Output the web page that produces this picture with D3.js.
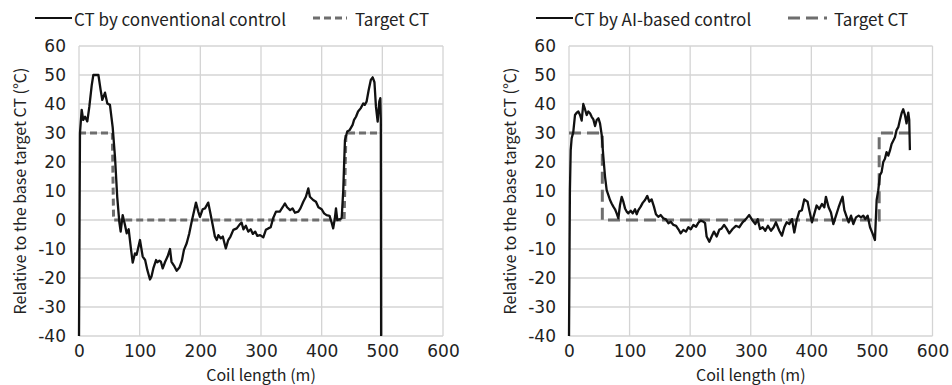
<!DOCTYPE html>
<html><head><meta charset="utf-8">
<script src="https://cdn.jsdelivr.net/npm/d3@7/dist/d3.min.js"></script>
<style>
html,body{margin:0;padding:0;background:#fff;}
svg{display:block;}
</style></head>
<body>
<svg id="chart" width="952" height="385"></svg>
<script>
// ---------- DATA ----------
const xTicks = [0, 100, 200, 300, 400, 500, 600];
const yTicks = [-40, -30, -20, -10, 0, 10, 20, 30, 40, 50, 60];

const convLabel = "CT by conventional control";
const aiLabel = "CT by AI-based control";
const targetLabel = "Target CT";
const xTitle = "Coil length (m)";
const yTitle = "Relative to the base target CT (℃)";

const convX = [0,1.6,4.4,7,10,13.7,17,21,23.6,32,35.7,38.4,42.9,46.7,51,55.5,59.3,63,66.4,68.7,72,75.8,78.6,81.9,85.2,88.5,92.3,95,100.5,105,109,112.6,117,119.5,122.5,127,129,132.5,135,138,142,146,150,152.5,156.5,161,165.5,169.6,173,177.5,181.8,185.7,189.5,192.8,196.6,199.4,203.8,207.7,213,216,220.4,224,227,229.7,233.6,237,242,246,249.7,254.4,260,265.3,268,271,275,279,283,286.6,290.4,294,298.6,303.8,308,312,316,320,324.7,331,335.7,339.5,343,348,352,356,361.5,365,369.7,374,378,380.6,386,390.6,394.6,400,404,408,413,416.5,419,421.7,423.6,425.8,429,433,435.6,436.8,438.4,442.2,446,451,453.4,456.6,460,464.2,468.5,471,474,477.5,481,484.1,487,489.5,492.3,495,496.7,497.5,498];
const convY = [-40,30,38,34.5,35.6,34,39,46.5,50,50,44.8,41.4,43.9,40.2,39.7,32,21.8,8,-0.6,-4,1.7,-1.7,-4.6,-3.2,-9.2,-14.7,-11.5,-12,-6.9,-12.6,-13.8,-17.2,-20.5,-19.5,-16.7,-13.8,-14.6,-14,-14.4,-16.7,-14.4,-12.6,-10,-14.4,-15.7,-17.5,-16.4,-14,-10.3,-8,-4.6,-0.6,2.9,6,2.9,1.1,3.7,4,6,2.9,-1.7,-5.7,-6.9,-5.2,-6.3,-5.7,-9.8,-6.9,-5.7,-3.4,-2.9,-1.4,-0.9,-3.2,-2,-4,-3.2,-4.8,-4,-5.5,-5.2,-6,-3.4,-2.9,-2.5,0.6,2.9,2.9,4.4,5.7,4.4,3.4,4,2.5,2.9,4,6.3,8,10.9,8,6.9,6.3,4.4,3.7,2.3,1.7,1.4,-0.9,-2.9,0.6,4,0,0.2,0.6,10.3,18,27.6,30.5,31,32.8,34.5,35.6,37.4,38.5,40.2,39.7,40.8,44.8,48.3,49.2,47.5,39,33.9,40.8,42,34.5,-40];

const aiX = [0,1.5,2.8,4.4,7,9.9,12.7,15.4,18.2,20.9,23.6,26.4,29.2,31.9,34.7,37.4,40.2,43,45.7,48.5,51.2,54,56.7,59.5,62.2,65,67.7,70.4,73.2,76,78.7,81.5,84.2,87,89.7,92.5,95.2,98,101.8,105.1,109,111.7,114.5,118.3,121.6,125.5,129.2,132.5,136.4,140.2,143.5,147.4,151.2,155.6,160,164,168,172.4,176.8,180.6,184.4,188.8,193,197,201,205.4,209.8,213.6,217.5,222,224.6,227.2,231.6,235.4,239.3,243.7,248,252,256,260,264.6,270,275.5,281,286.5,292,297.5,303,307.5,311.4,315.3,319.6,324,328.4,333.4,337.8,341.6,347.1,351.5,355.4,359.3,363.7,368,371.9,375.8,380,384.4,388.3,393.8,396.6,401,404.9,408.7,413.1,417.5,421.4,424.1,428.5,432.4,436.3,440.7,445.1,449,451.6,454.5,458.3,461.6,465.5,469.3,473.7,478.1,482,485.8,489.1,493,496.9,501.3,505,507.8,510.5,513.2,516,518.7,521.5,524.2,527,529.7,532.5,535.2,538,540.7,543.5,546.2,549,551.7,554.5,557.2,560,561.6,562.7];
const aiY = [-40,10,24.1,28.2,30.2,36.2,37,37.4,36.2,34.3,40,38.2,36.2,37.4,36.8,35.6,34.7,32.4,34.5,35.1,33.3,29.3,21.8,14.9,10.3,8.6,6.9,5.7,4.6,3.7,2.3,0.6,5.2,8,6.3,4,2.9,2.3,3.2,2.3,3.7,2,3.4,4.6,5.9,6.9,8.3,6.3,7.1,4.6,2,1.1,1.7,0.6,0.2,-1.1,-0.6,-1.7,-2,-3.2,-4.6,-3.4,-4,-2.5,-3.2,-1.7,-2.3,-0.9,-0.2,-0.6,-1.1,-5.7,-7.5,-5.7,-4,-5.7,-3.4,-2.9,-1.7,-2.9,-4.6,-3.1,-2,-2.5,-0.8,0.3,1.7,-0.2,-1.4,0.3,-3.1,-2.5,-3.7,-2,-3.7,-2.5,-0.8,-3.7,-5.4,-2.5,-0.8,-1.4,0.3,-4.3,-0.1,2.9,3.4,7.1,6.3,3.4,-0.8,2.1,5,3.8,5.5,4.4,8,4.4,2.6,-1.4,1.5,4.4,6.7,8,3.4,1.1,-0.8,1.5,-1.4,0.9,1.5,0.9,1.5,0.3,1.5,-2.5,-4.8,-6.9,6.9,10.3,15.5,16.5,20,21.1,23.4,22.2,23.9,26.2,27.3,28.5,31,32,34.5,36.8,38.2,36.2,33.3,37,34.5,24.1];

const targetConvX = [0, 55, 57, 437, 440, 499];
const targetConvY = [30, 30, 0, 0, 30, 30];
const targetAiX = [0, 55, 55, 512, 512, 563];
const targetAiY = [30, 30, 0, 0, 30, 30];

// ---------- DRAW ----------
const svg = d3.select("#chart");
const textFont = "'Noto Sans CJK JP', 'Noto Sans', sans-serif";
const tickFont = "'DejaVu Sans', sans-serif";
const ink = "#222";

const panels = [
  {left: 79, right: 443, lx: convX, ly: convY, tx: targetConvX, ty: targetConvY,
   dash: "7,4", legLine: [35, 72], legText: 74, legDash: [313, 347], legText2: 355,
   label: convLabel, yTitleX: 19},
  {left: 569, right: 932.5, lx: aiX, ly: aiY, tx: targetAiX, ty: targetAiY,
   dash: "12,6", legLine: [536, 573], legText: 574, legDash: [788, 827], legText2: 834,
   label: aiLabel, yTitleX: 509}
];
const plotTop = 46, plotBottom = 336;

panels.forEach((p, i) => {
  const x = d3.scaleLinear().domain([0, 600]).range([p.left, p.right]);
  const y = d3.scaleLinear().domain([-40, 60]).range([plotBottom, plotTop]);
  const g = svg.append("g");

  // grid
  g.append("g").selectAll("line").data(yTicks).join("line")
    .attr("x1", p.left).attr("x2", p.right)
    .attr("y1", d => y(d)).attr("y2", d => y(d))
    .attr("stroke", "#d4d4d4").attr("stroke-width", 1.3);
  g.append("g").selectAll("line").data(xTicks).join("line")
    .attr("y1", plotTop).attr("y2", plotBottom)
    .attr("x1", d => x(d)).attr("x2", d => x(d))
    .attr("stroke", "#d4d4d4").attr("stroke-width", 1.3);

  // axes (labels only)
  const yAxis = g.append("g").attr("transform", `translate(${p.left},0)`)
    .call(d3.axisLeft(y).tickValues(yTicks).tickSize(0).tickPadding(13).tickFormat(d3.format("d")));
  const xAxis = g.append("g").attr("transform", `translate(0,${plotBottom})`)
    .call(d3.axisBottom(x).tickValues(xTicks).tickSize(0).tickPadding(9).tickFormat(d3.format("d")));
  [yAxis, xAxis].forEach(a => {
    a.select(".domain").remove();
    a.selectAll("text").attr("font-family", tickFont).attr("font-size", 17).attr("fill", ink);
  });
  yAxis.selectAll("text").text(d => d < 0 ? "-" + Math.abs(d) : d);

  // clip
  const cid = "clip" + i;
  svg.append("clipPath").attr("id", cid).append("rect")
    .attr("x", p.left - 2).attr("y", plotTop).attr("width", p.right - p.left + 4).attr("height", plotBottom - plotTop);

  const line = d3.line().x(d => x(d[0])).y(d => y(d[1]));
  const tData = p.tx.map((v, k) => [v, p.ty[k]]);
  const lData = p.lx.map((v, k) => [v, p.ly[k]]);

  g.append("path").datum(tData).attr("d", line).attr("clip-path", `url(#${cid})`)
    .attr("fill", "none").attr("stroke", "#6e6e6e").attr("stroke-width", 3)
    .attr("stroke-dasharray", p.dash);
  g.append("path").datum(lData).attr("d", line).attr("clip-path", `url(#${cid})`)
    .attr("fill", "none").attr("stroke", "#111").attr("stroke-width", 2.3)
    .attr("stroke-linejoin", "round");

  // titles
  g.append("text").attr("x", (p.left + p.right) / 2).attr("y", 381)
    .attr("text-anchor", "middle").attr("font-family", textFont).attr("font-size", 16)
    .attr("fill", ink).text(xTitle);
  g.append("text").attr("transform", `translate(${p.yTitleX},${(plotTop + plotBottom) / 2}) rotate(-90)`)
    .attr("text-anchor", "middle").attr("dominant-baseline", "central")
    .attr("font-family", textFont).attr("font-size", 16).attr("fill", ink).text(yTitle);

  // legend
  const ly = 18;
  g.append("line").attr("x1", p.legLine[0]).attr("x2", p.legLine[1]).attr("y1", ly).attr("y2", ly)
    .attr("stroke", "#111").attr("stroke-width", 2);
  g.append("text").attr("x", p.legText).attr("y", ly).attr("dominant-baseline", "central")
    .attr("font-family", textFont).attr("font-size", 17).attr("fill", ink).text(p.label);
  g.append("line").attr("x1", p.legDash[0]).attr("x2", p.legDash[1]).attr("y1", ly).attr("y2", ly)
    .attr("stroke", "#6e6e6e").attr("stroke-width", 3).attr("stroke-dasharray", p.dash);
  g.append("text").attr("x", p.legText2).attr("y", ly).attr("dominant-baseline", "central")
    .attr("font-family", textFont).attr("font-size", 17).attr("fill", ink).text(targetLabel);
});
</script>
</body></html>
